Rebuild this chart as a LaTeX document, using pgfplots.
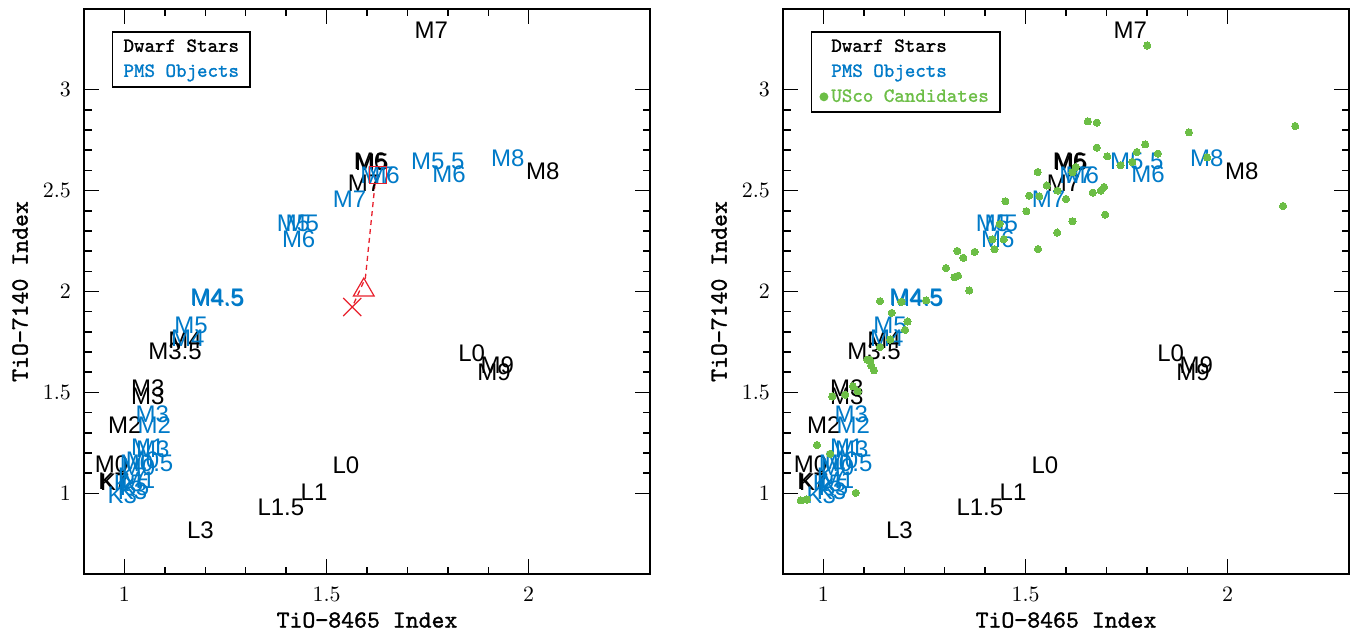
\documentclass[border=0pt]{standalone}
\usepackage{fontspec}
\usepackage{pgfplots}
\usepackage{pgfplotstable}
\pgfplotsset{compat=1.18}
\newfontfamily\labfont{Liberation Sans}
\newfontfamily\legfont{lmmono10-regular.otf}[FakeBold=1.3]
\definecolor{pmsblue}{RGB}{0,122,200}
\definecolor{uscogreen}{RGB}{108,190,70}
\definecolor{redmark}{RGB}{232,32,44}

\pgfplotstableread{
x y lab
1.759 3.296 M7
1.612 2.640 M5
1.609 2.644 M6
1.594 2.538 M7
2.035 2.595 M8
1.150 1.757 M4
1.125 1.705 M3.5
1.058 1.521 M3
1.058 1.481 M3
1.001 1.340 M2
0.968 1.146 M0
0.972 1.058 K7
0.976 1.054 K7
1.548 1.139 L0
1.469 1.006 L1
1.387 0.929 L1.5
1.188 0.817 L3
1.859 1.693 L0
1.922 1.637 M9
1.914 1.601 M9
}\dwarf

\pgfplotstableread{
x y lab
1.625 2.578 M7
1.640 2.576 M6
1.775 2.647 M5.5
1.803 2.579 M6
1.948 2.660 M8
1.557 2.455 M7
1.418 2.337 M5
1.440 2.337 M5
1.431 2.259 M6
1.229 1.970 M4.5
1.231 1.968 M4.5
1.165 1.832 M5
1.157 1.766 M4
1.069 1.392 M3
1.074 1.336 M2
1.058 1.228 M1
1.070 1.218 M3
1.045 1.165 M0
1.055 1.150 M0.5
1.035 1.130 M0
1.020 1.085 K7
1.035 1.065 M1
1.010 1.050 K5
1.025 1.030 K5
0.995 0.990 K3
1.020 1.010 K3
}\pms

\pgfplotstableread{
x y
1.801 3.219
1.654 2.843
1.676 2.837
1.904 2.789
2.167 2.820
1.796 2.729
1.775 2.691
1.676 2.713
1.827 2.683
1.702 2.670
1.764 2.642
1.735 2.625
1.949 2.665
1.624 2.617
1.616 2.592
1.530 2.592
1.552 2.525
1.579 2.500
1.694 2.518
1.686 2.500
1.666 2.490
1.509 2.475
1.534 2.472
1.600 2.459
1.450 2.447
1.502 2.398
1.697 2.381
1.616 2.348
1.436 2.335
1.578 2.292
1.418 2.259
1.446 2.259
1.423 2.210
1.531 2.210
1.331 2.201
1.374 2.196
1.346 2.167
1.303 2.116
1.324 2.071
1.333 2.078
1.361 2.005
2.137 2.424
1.140 1.952
1.193 1.949
1.254 1.956
1.169 1.894
1.208 1.851
1.202 1.810
1.165 1.762
1.140 1.724
1.108 1.662
1.115 1.660
1.118 1.634
1.125 1.609
1.073 1.530
1.085 1.505
1.054 1.488
1.022 1.480
0.984 1.239
1.017 1.196
1.080 1.002
0.944 0.965
0.959 0.969
}\usco

\pgfplotsset{
  panel/.style={
    scale only axis, width=283pt, height=282.5pt,
    xmin=0.9, xmax=2.3, ymin=0.6, ymax=3.4,
    xtick={1,1.5,2}, ytick={1,1.5,2,2.5,3},
    minor x tick num=4, minor y tick num=4,
    major tick length=7.5pt, minor tick length=3.75pt,
    tick align=inside,
    axis line style={line width=1.1pt},
    every tick/.style={black, line width=0.75pt},
    tick label style={font=\fontsize{11}{11}\selectfont},
    xticklabel style={yshift=-3pt},
    yticklabel style={xshift=-3pt},
    xlabel={TiO−8465 Index}, ylabel={TiO−7140 Index},
    label style={font=\legfont\fontsize{12.3}{12.3}\selectfont},
    xlabel style={at={(axis description cs:0.5,-0.0815)}, anchor=center},
    ylabel style={at={(axis description cs:-0.113,0.5)}, anchor=center},
    legend style={at={(0.049,0.961)}, anchor=north west, draw=black, line width=0.8pt,
      font=\legfont\fontsize{10}{10}\selectfont, inner xsep=4pt, inner ysep=1.5pt,
      row sep=0.5pt, cells={anchor=west},
      nodes={inner sep=1.5pt, text height=7pt, text depth=2pt}},
  },
  lab/.style={only marks, mark=none, nodes near coords, point meta=explicit symbolic,
    nodes near coords align=center,
    every node near coord/.append style={font=\labfont\fontsize{12}{12}\selectfont, inner sep=0pt, text=#1},
    legend image code/.code={}},
}

\begin{document}
\begin{tikzpicture}
\path[use as bounding box] (0,0) rectangle (675pt,316.5pt);
\begin{axis}[panel, at={(42pt,29.5pt)}, anchor=south west]
  \addplot[lab=black] table[x=x,y=y,meta=lab] {\dwarf};
  \addlegendentry{Dwarf Stars}
  \addplot[lab=pmsblue] table[x=x,y=y,meta=lab] {\pms};
  \addlegendentry{\textcolor{pmsblue}{PMS Objects}}
  \addplot[redmark, dash pattern=on 2.5pt off 2pt, line width=0.65pt, forget plot] coordinates {(1.622,2.576) (1.596,2.067) (1.5635,1.923)};
  \addplot[redmark, only marks, mark=square, mark size=4.25pt, line width=0.6pt, forget plot] coordinates {(1.627,2.576)};
  \addplot[redmark, only marks, mark=triangle, mark size=6pt, line width=0.6pt, forget plot] coordinates {(1.592,2.007)};
  \addplot[redmark, only marks, mark=x, mark size=6.4pt, line width=0.6pt, forget plot] coordinates {(1.5635,1.923)};
\end{axis}
\begin{axis}[panel, at={(391.5pt,29.5pt)}, anchor=south west]
  \addplot[lab=black] table[x=x,y=y,meta=lab] {\dwarf};
  \addlegendentry{Dwarf Stars}
  \addplot[lab=pmsblue] table[x=x,y=y,meta=lab] {\pms};
  \addlegendentry{\textcolor{pmsblue}{PMS Objects}}
  \addplot[uscogreen, only marks, mark=*, mark size=1.8pt, mark options={draw=uscogreen, fill=uscogreen, line width=0pt},
    legend image code/.code={\fill[uscogreen] (1.8pt,0pt) circle (1.8pt);}] table[x=x,y=y] {\usco};
  \addlegendentry{\textcolor{uscogreen}{USco Candidates}}
\end{axis}
\end{tikzpicture}
\end{document}
